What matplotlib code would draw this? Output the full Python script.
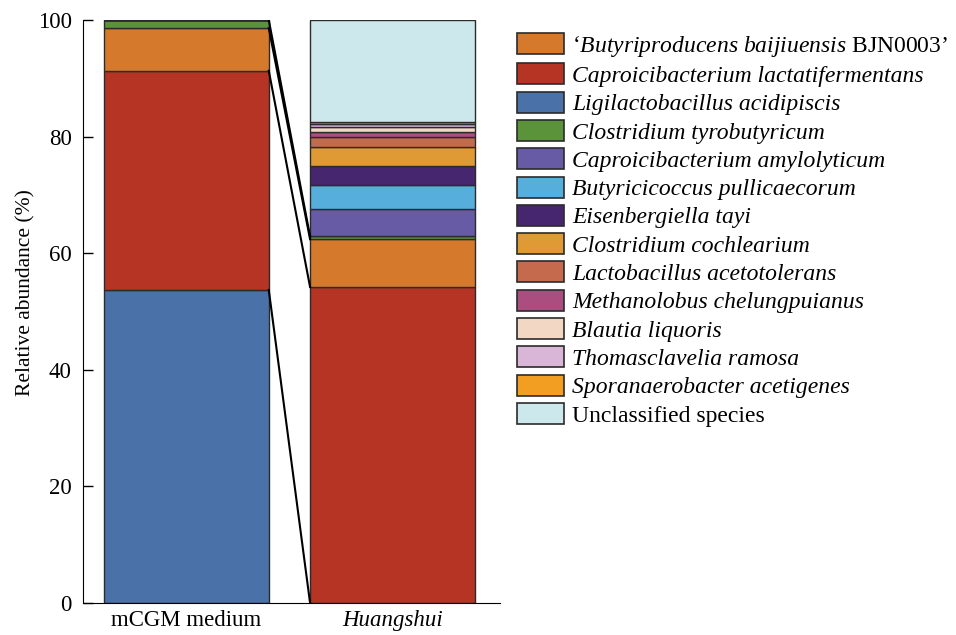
import numpy as np
import matplotlib
matplotlib.use("Agg")
import matplotlib.pyplot as plt
from matplotlib.patches import Patch

plt.rcParams['font.family'] = ['Liberation Serif', 'DejaVu Serif']
plt.rcParams['mathtext.fontset'] = 'custom'
plt.rcParams['mathtext.rm'] = 'Liberation Serif'
plt.rcParams['mathtext.it'] = 'Liberation Serif:italic'

samples = ['mCGM medium', 'Huangshui']

# stacking order, bottom to top
species = ['Ligilactobacillus acidipiscis',
           'Caproicibacterium lactatifermentans',
           "Butyriproducens",
           'Clostridium tyrobutyricum',
           'Caproicibacterium amylolyticum',
           'Butyricicoccus pullicaecorum',
           'Eisenbergiella tayi',
           'Clostridium cochlearium',
           'Lactobacillus acetotolerans',
           'Methanolobus chelungpuianus',
           'Blautia liquoris',
           'Thomasclavelia ramosa',
           'Sporanaerobacter acetigenes',
           'Unclassified species']

mcgm = [53.7, 37.6, 7.3, 1.4, 0, 0, 0, 0, 0, 0, 0, 0, 0, 0]
huangshui = [0, 54.2, 8.2, 0.5, 4.7, 4.1, 3.3, 3.2, 1.8, 0.8, 0.9, 0.4, 0.4, 17.5]

colors = ['#4A72A8', '#B53424', '#D57A2C', '#5A9339', '#675BA5', '#55AEDC',
          '#45266F', '#DF9A35', '#C56A4C', '#AC4D80', '#F2D7C5', '#D9B6D8',
          '#F29E22', '#CCE8EC']

# legend order (indices into species)
legend_order = [2, 1, 0, 3, 4, 5, 6, 7, 8, 9, 10, 11, 12, 13]
legend_labels = {2: "\u2018$\\mathit{Butyriproducens\\ baijiuensis}$ BJN0003\u2019"}

fig = plt.figure(figsize=(9.56, 6.35), dpi=100)
ax = fig.add_axes([0.0868, 0.0504, 0.4362, 0.9181])

x = np.arange(len(samples))
width = 0.8
data = np.array([mcgm, huangshui])
bottoms = np.zeros(len(samples))
for i in range(len(species)):
    ax.bar(x, data[:, i], width, bottom=bottoms, color=colors[i],
           edgecolor='#2b2b2b', linewidth=1.0)
    bottoms += data[:, i]

# connecting lines between segment tops shared by both samples
cum = np.cumsum(data, axis=1)
for i in range(4):
    ax.plot([x[0] + width / 2, x[1] - width / 2], [cum[0, i], cum[1, i]],
            color='black', linewidth=1.5)

ax.set_xlim(-0.5, 1.52)
ax.set_ylim(0, 100)
ax.set_xticks(x)
ax.set_xticklabels(samples, fontsize=16.5)
ax.get_xticklabels()[1].set_fontstyle('italic')
ax.tick_params(axis='x', length=0, pad=5)
ax.set_yticks([0, 20, 40, 60, 80, 100])
ax.tick_params(axis='y', labelsize=16.5, length=7, width=1, direction='in', pad=8)
ax.set_ylabel('Relative abundance (%)', fontsize=15.5, labelpad=2)
ax.yaxis.label.set_y(0.533)
ax.spines['top'].set_visible(False)
ax.spines['right'].set_visible(False)

handles = [Patch(facecolor=colors[i], edgecolor='#2b2b2b', linewidth=1.2)
           for i in legend_order]
labels = [legend_labels.get(i, species[i]) for i in legend_order]
leg = fig.legend(handles, labels, loc='upper left',
                 bbox_to_anchor=(0.5408, 0.948), frameon=False,
                 fontsize=17, handlelength=1.99, handleheight=0.99,
                 handletextpad=0.35, labelspacing=0.2, borderpad=0,
                 borderaxespad=0)
for t, i in zip(leg.get_texts(), legend_order):
    if species[i] != 'Unclassified species' and i != 2:
        t.set_fontstyle('italic')

fig.savefig('out.png', dpi=100)
